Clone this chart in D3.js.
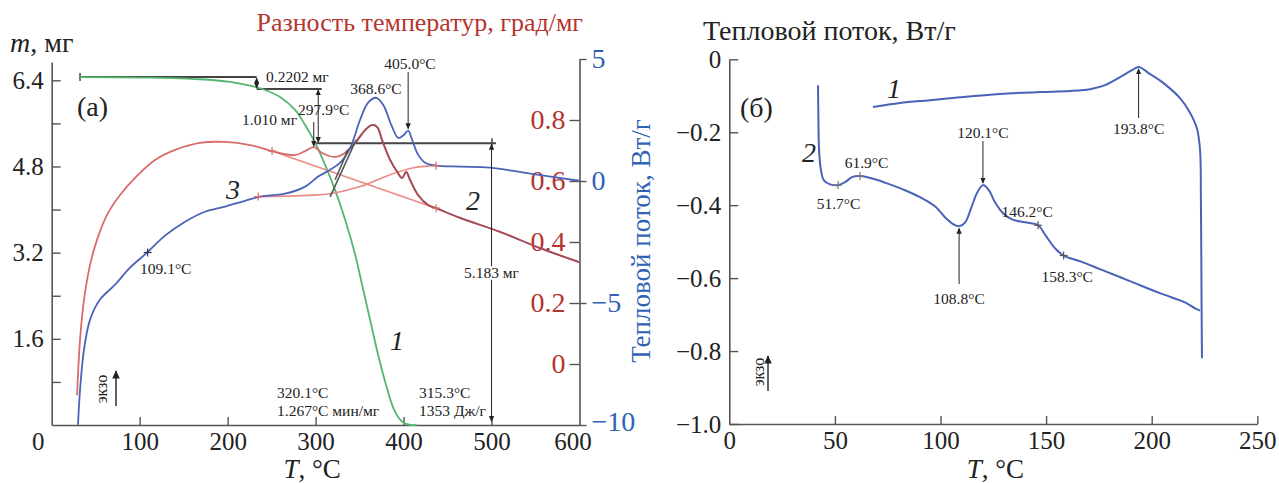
<!DOCTYPE html>
<html><head><meta charset="utf-8">
<script src="https://cdn.jsdelivr.net/npm/d3@7"></script>
<style>
body{margin:0;background:#fff}
svg, svg text{font-family:"Liberation Serif","Times New Roman","DejaVu Serif",serif}
</style>
</head><body>
<svg id="c" width="1279" height="483"></svg>
<script>
// ---------------- DATA ----------------
// Panel (a): TG curve 1 (mass, mg)
const tgT    = [32.2, 111.8, 168.6, 202.7, 225.5, 242.6, 259.6, 276.7, 288.1, 299.5, 310.8, 322.2, 333.6, 345.0, 352.9, 362.0, 371.1, 380.2, 389.3, 398.4, 407.5, 415];
const tgMass = [6.46, 6.45, 6.42, 6.37, 6.30, 6.22, 6.09, 5.85, 5.57, 5.24, 4.83, 4.36, 3.81, 3.16, 2.60, 1.95, 1.30, 0.74, 0.28, 0.06, 0.0, 0.0];
// Panel (a): DTA curve 2 (temperature difference, grad/mg)
const dtaT   = [28.8, 32.2, 36.7, 43.6, 51.5, 62.9, 77.7, 98.1, 117.5, 140.2, 168.6, 197.1, 225.5, 250.5, 276.7, 288.1, 298.3, 307.4, 322.2, 333.6, 345, 356.3, 364.3, 370, 375.6, 384.7, 392.7, 398.4, 402.9, 407.5, 416.5, 427.9, 437, 464.3, 509.7, 555.2, 599.6];
const dtaVal = [-0.102, 0.079, 0.210, 0.325, 0.407, 0.489, 0.554, 0.620, 0.669, 0.702, 0.725, 0.728, 0.718, 0.698, 0.685, 0.698, 0.711, 0.692, 0.679, 0.692, 0.725, 0.767, 0.784, 0.777, 0.734, 0.669, 0.630, 0.610, 0.630, 0.603, 0.554, 0.521, 0.511, 0.479, 0.433, 0.380, 0.334];
// Panel (a): DSC curve 3 (heat flow, W/g)
const dscT   = [29.9, 32.2, 36.7, 43.6, 54.9, 72, 89, 109.5, 128.8, 151.6, 174.3, 197.1, 219.8, 236.9, 265.3, 288.1, 302.9, 316.5, 327.9, 339.3, 350.6, 359.7, 368.8, 376.8, 385.9, 393.8, 399.5, 405.2, 409.7, 416.5, 424.5, 437, 464.3, 498.4, 543.9, 599.6];
const dscVal = [-9.99, -8.56, -6.91, -5.68, -4.86, -4.25, -3.55, -2.90, -2.24, -1.67, -1.26, -1.05, -0.81, -0.64, -0.52, -0.23, 0.18, 0.46, 0.75, 1.36, 2.51, 3.21, 3.41, 3.13, 2.31, 1.77, 1.86, 2.06, 1.69, 1.08, 0.75, 0.63, 0.59, 0.55, 0.30, 0.01];
// integration baselines
const dscBaseT   = [234.7, 282.4, 316.5, 350.6, 384.7, 413, 437];
const dscBaseVal = [-0.64, -0.60, -0.52, -0.23, 0.26, 0.55, 0.63];
const dtaBaseT   = [250.5, 437];
const dtaBaseVal = [0.698, 0.511];
// mass step levels (mg) and their labels
const stepLevels = [6.46, 6.24, 5.23, 0.05];
const stepLosses = ["0.2202 мг", "1.010 мг", "5.183 мг"];

// Panel (б): DSC curves
const c1T = [68.0, 80.8, 95, 109.2, 128.2, 147.1, 161.3, 170.8, 177.9, 185, 190.7, 193.8, 199.1, 206.2, 213.3, 218, 221.4, 222.9, 223.3, 223.6, 223.8];
const c1V = [-0.131, -0.120, -0.112, -0.104, -0.095, -0.090, -0.087, -0.082, -0.071, -0.049, -0.030, -0.021, -0.040, -0.068, -0.106, -0.145, -0.189, -0.249, -0.387, -0.661, -0.820];
const c2T = [42.0, 42.2, 42.5, 43.4, 44.8, 47.7, 51.5, 54.8, 58.1, 61.9, 69, 76, 83.2, 90.3, 97.4, 102.1, 105.9, 108.8, 111.7, 114.5, 117.4, 120.1, 122.9, 125.8, 129.6, 133.9, 140, 146.2, 150, 154.2, 158.3, 166.3, 175.8, 190, 204.2, 216, 220.5, 222.9];
const c2V = [-0.071, -0.167, -0.249, -0.304, -0.332, -0.343, -0.345, -0.337, -0.323, -0.320, -0.329, -0.343, -0.359, -0.378, -0.403, -0.433, -0.452, -0.458, -0.447, -0.408, -0.365, -0.345, -0.359, -0.392, -0.422, -0.439, -0.447, -0.455, -0.485, -0.518, -0.538, -0.554, -0.576, -0.609, -0.642, -0.667, -0.683, -0.689];

// tick values
const xTicksL = [0, 100, 200, 300, 400, 500, 600];
const mTicks  = [0.8, 1.6, 2.4, 3.2, 4.0, 4.8, 5.6, 6.4];
const dtaTicks = [0, 0.2, 0.4, 0.6, 0.8];
const dscTicks = [-10, -5, 0, 5];
const xTicksR = [0, 50, 100, 150, 200, 250];
const yTicksR = [-1.0, -0.8, -0.6, -0.4, -0.2, 0];

// ---------------- DRAW ----------------
const FONT = '"Liberation Serif","Times New Roman","DejaVu Serif",serif';
const svg = d3.select('#c');
const INK = '#222', AX = '#555';
const GREEN = '#55b572', RED = '#d86b6b', DRED = '#a24d5c', PINK = '#ec8a86', BLUE = '#4a63b8';
const RTXT = '#b5352f', BTXT = '#2f62b5';
const ANN = 15.5, BIG = 27;

const defs = svg.append('defs');
defs.append('marker').attr('id', 'ah').attr('viewBox', '0 0 10 10').attr('refX', 9).attr('refY', 5)
  .attr('markerWidth', 6).attr('markerHeight', 7).attr('orient', 'auto-start-reverse')
  .append('path').attr('d', 'M0,0.5 L10,5 L0,9.5 Z').attr('fill', INK);

function txt(g, x, y, s, o = {}) {
  const t = g.append('text').attr('x', x).attr('y', y).text(s)
    .attr('font-family', FONT)
    .attr('font-size', o.size || ANN).attr('fill', o.fill || INK)
    .attr('text-anchor', o.anchor || 'start').attr('dominant-baseline', 'central');
  if (o.italic) t.attr('font-style', 'italic');
  if (o.rot) t.attr('transform', `rotate(${o.rot},${x},${y})`);
  return t;
}
function seg(g, x1, y1, x2, y2, o = {}) {
  const l = g.append('line').attr('x1', x1).attr('y1', y1).attr('x2', x2).attr('y2', y2)
    .attr('stroke', o.stroke || INK).attr('stroke-width', o.w || 1.2);
  if (o.end) l.attr('marker-end', 'url(#ah)');
  if (o.start) l.attr('marker-start', 'url(#ah)');
  return l;
}
function cross(g, x, y, c) {
  seg(g, x - 4, y, x + 4, y, { stroke: c, w: 1.2 });
  seg(g, x, y - 4, x, y + 4, { stroke: c, w: 1.2 });
}
function styleAxis(ax, size, fill) {
  ax.attr('font-family', FONT);
  ax.selectAll('.tick line').attr('stroke', AX).attr('stroke-width', 1.4);
  ax.selectAll('.tick text').attr('font-size', size).attr('font-family', FONT).attr('fill', fill);
}
const zip = (a, b) => a.map((d, i) => [d, b[i]]);

// ===== Panel (a) =====
const xL = d3.scaleLinear().domain([0, 600]).range([51.7, 579.5]);
const yM = d3.scaleLinear().domain([0, 6.74]).range([425, 62]);
const yD = d3.scaleLinear().domain([-0.2, 1.0]).range([425, 59]);
const yB = d3.scaleLinear().domain([-10, 5]).range([425, 59]);

const gA = svg.append('g');
const axB = gA.append('g').attr('transform', `translate(0,${yM(0)})`)
  .call(d3.axisBottom(xL).tickValues(xTicksL).tickSizeInner(-8).tickSizeOuter(0).tickPadding(7).tickFormat(d3.format('d')));
styleAxis(axB, 25, INK);
axB.select('.domain').attr('stroke', AX).attr('stroke-width', 1.6);
axB.selectAll('.tick line').filter(d => d === 0 || d === 600).remove();
axB.selectAll('.tick text').filter(d => d === 0).attr('dx', -14);
axB.selectAll('.tick text').filter(d => d === 600).attr('dx', -7);

const axM = gA.append('g').attr('transform', `translate(${xL(0)},0)`)
  .call(d3.axisLeft(yM).tickValues(mTicks).tickSizeInner(-9).tickSizeOuter(0).tickPadding(8)
    .tickFormat(d => (Math.abs(d / 1.6 - Math.round(d / 1.6)) < 1e-6) ? d3.format('.1f')(d) : ''));
styleAxis(axM, 25, INK);
axM.select('.domain').attr('stroke', AX).attr('stroke-width', 1.6);

const axD = gA.append('g').attr('transform', `translate(${xL(600)},0)`)
  .call(d3.axisLeft(yD).tickValues(dtaTicks).tickSizeInner(10).tickSizeOuter(0).tickPadding(4)
    .tickFormat(d => d === 0 ? '0' : d3.format('.1f')(d)));
styleAxis(axD, 28, RTXT);
axD.select('.domain').remove();

const axBl = gA.append('g').attr('transform', `translate(${xL(600)},0)`)
  .call(d3.axisRight(yB).tickValues(dscTicks).tickSizeInner(7).tickSizeOuter(0).tickPadding(5));
styleAxis(axBl, 28, BTXT);
axBl.select('.domain').attr('stroke', AX).attr('stroke-width', 1.6);
axBl.selectAll('.tick text').filter(d => d === -10).attr('dy', '0.2em');

// titles
const mt = gA.append('text').attr('x', 10).attr('y', 52).attr('font-size', 28).attr('font-family', FONT).attr('fill', INK);
mt.append('tspan').attr('font-style', 'italic').text('m');
mt.append('tspan').text(', мг');
txt(gA, 583, 22, 'Разность температур, град/мг', { size: 26, fill: RTXT, anchor: 'end' });
txt(gA, 641, 241, 'Тепловой поток, Вт/г', { size: 27, fill: BTXT, anchor: 'middle', rot: -90 });
const xt = gA.append('text').attr('x', xL(296)).attr('y', 478).attr('text-anchor', 'middle').attr('font-size', BIG).attr('font-family', FONT).attr('fill', INK);
xt.append('tspan').attr('font-style', 'italic').text('T');
xt.append('tspan').text(', °C');

const lineM = d3.line().x(d => xL(d[0])).y(d => yM(d[1])).curve(d3.curveCatmullRom.alpha(0.5));
const lineD = d3.line().x(d => xL(d[0])).y(d => yD(d[1])).curve(d3.curveCatmullRom.alpha(0.5));
const lineB = d3.line().x(d => xL(d[0])).y(d => yB(d[1])).curve(d3.curveCatmullRom.alpha(0.5));

// mass-step construction lines
const sT = [32.2, 233, 307, 300, 505];
seg(gA, xL(sT[0]), yM(stepLevels[0]), xL(sT[1]), yM(stepLevels[0]), { stroke: '#444', w: 2 });
seg(gA, xL(sT[0]), yM(stepLevels[0]) - 4, xL(sT[0]), yM(stepLevels[0]) + 4, { stroke: '#444', w: 1.5 });
seg(gA, xL(sT[1]), yM(stepLevels[1]), xL(sT[2]), yM(stepLevels[1]), { stroke: '#444', w: 2 });
seg(gA, xL(sT[3]), yM(stepLevels[2]), xL(sT[4]), yM(stepLevels[2]), { stroke: '#444', w: 2 });
seg(gA, xL(sT[4]) - 4, yM(stepLevels[2]) - 5, xL(sT[4]) - 4, yM(stepLevels[2]) + 5, { stroke: '#444', w: 1.5 });

// curves
gA.append('path').datum(zip(tgT, tgMass)).attr('d', lineM).attr('fill', 'none').attr('stroke', GREEN).attr('stroke-width', 1.8);
gA.append('path').datum(zip(dtaBaseT, dtaBaseVal)).attr('d', lineD).attr('fill', 'none').attr('stroke', PINK).attr('stroke-width', 1.6);
gA.append('path').datum(zip(dscBaseT, dscBaseVal)).attr('d', lineB).attr('fill', 'none').attr('stroke', PINK).attr('stroke-width', 1.6);
gA.append('path').datum(zip(dtaT, dtaVal)).attr('d', lineD).attr('fill', 'none').attr('stroke', RED).attr('stroke-width', 1.8);
gA.append('path').datum(zip(dtaT, dtaVal).filter(d => d[0] >= 333)).attr('d', lineD).attr('fill', 'none').attr('stroke', DRED).attr('stroke-width', 1.8);
gA.append('path').datum(zip(dscT, dscVal)).attr('d', lineB).attr('fill', 'none').attr('stroke', BLUE).attr('stroke-width', 1.8);

// onset tangents
seg(gA, xL(316.5), yB(-0.65), xL(346.1), yB(1.69), { stroke: '#555', w: 1.6 });
seg(gA, xL(322.2), yB(0.05), xL(337), yB(1.28), { stroke: '#555', w: 1.6 });

// crosses
cross(gA, xL(250.5), yD(0.698), RED);
cross(gA, xL(437), yD(0.511), RED);
cross(gA, xL(234.7), yB(-0.64), RED);
cross(gA, xL(437), yB(0.63), RED);
cross(gA, xL(109.1), yB(-2.93), '#335');

// annotations
seg(gA, xL(sT[1]), yM(stepLevels[0]) + 1, xL(sT[1]), yM(stepLevels[1]) - 1, { start: true, end: true, w: 1 });
txt(gA, 266, 76, stepLosses[0]);
seg(gA, xL(303), yM(stepLevels[1]) + 1, xL(303), yM(stepLevels[2]) - 1, { start: true, end: true, w: 1 });
txt(gA, 297, 119, stepLosses[1], { anchor: 'end' });
seg(gA, xL(297.9), 122, xL(297.9), yD(0.711) - 1, { end: true, w: 1 });
txt(gA, 298, 109, '297.9°C');
txt(gA, 376, 88, '368.6°C', { anchor: 'middle' });
txt(gA, 410, 63, '405.0°C', { anchor: 'middle' });
seg(gA, xL(405.2), 72, xL(405.2), yB(2.06) - 2, { end: true, w: 1 });
seg(gA, xL(500), yM(stepLevels[2]) + 1, xL(500), yM(stepLevels[3]) - 1, { start: true, end: true, w: 1 });
txt(gA, xL(500), 272, stepLosses[2], { anchor: 'middle' }).attr('stroke', '#fff').attr('stroke-width', 4).attr('paint-order', 'stroke');
txt(gA, 140, 268, '109.1°C');
txt(gA, 277, 392, '320.1°C');
txt(gA, 277, 410, '1.267°C мин/мг');
txt(gA, 419, 392, '315.3°C');
txt(gA, 419, 410, '1353 Дж/г');
txt(gA, 101, 389, 'экзо', { rot: -90, anchor: 'middle', size: 16 });
seg(gA, 116, 406, 116, 371, { end: true, w: 1.4 });
txt(gA, 77, 106, '(а)', { size: 28 });
txt(gA, 390, 340, '1', { size: 28, italic: true });
txt(gA, 466, 200, '2', { size: 28, italic: true });
txt(gA, 226, 189, '3', { size: 28, italic: true });

// ===== Panel (б) =====
const xR = d3.scaleLinear().domain([0, 250]).range([729.3, 1257.3]);
const yR = d3.scaleLinear().domain([-1, 0]).range([424, 59.3]);
const gB = svg.append('g');

const axRB = gB.append('g').attr('transform', `translate(0,${yR(-1)})`)
  .call(d3.axisBottom(xR).tickValues(xTicksR).tickSizeInner(-8).tickSizeOuter(0).tickPadding(7).tickFormat(d3.format('d')));
styleAxis(axRB, 25, INK);
axRB.select('.domain').attr('stroke', AX).attr('stroke-width', 1.6);
axRB.selectAll('.tick line').filter(d => d === 0).remove();

const axRL = gB.append('g').attr('transform', `translate(${xR(0)},0)`)
  .call(d3.axisLeft(yR).tickValues(yTicksR).tickSizeInner(-9).tickSizeOuter(0).tickPadding(8)
    .tickFormat(d => d === 0 ? '0' : d3.format('.1f')(d)));
styleAxis(axRL, 25, INK);
axRL.select('.domain').attr('stroke', AX).attr('stroke-width', 1.6);

txt(gB, 703, 30, 'Тепловой поток, Вт/г', { size: 28 });
const xt2 = gB.append('text').attr('x', xR(126)).attr('y', 478).attr('text-anchor', 'middle').attr('font-size', BIG).attr('font-family', FONT).attr('fill', INK);
xt2.append('tspan').attr('font-style', 'italic').text('T');
xt2.append('tspan').text(', °C');

const lineR = d3.line().x(d => xR(d[0])).y(d => yR(d[1])).curve(d3.curveCatmullRom.alpha(0.5));
gB.append('path').datum(zip(c1T, c1V)).attr('d', lineR).attr('fill', 'none').attr('stroke', BLUE).attr('stroke-width', 2);
gB.append('path').datum(zip(c2T, c2V)).attr('d', lineR).attr('fill', 'none').attr('stroke', BLUE).attr('stroke-width', 2);

cross(gB, xR(51.5), yR(-0.345), '#777');
cross(gB, xR(61.9), yR(-0.320), '#777');
cross(gB, xR(146.2), yR(-0.455), '#555');
cross(gB, xR(158.3), yR(-0.538), '#555');

txt(gB, xR(51.7), 203, '51.7°C', { anchor: 'middle' });
txt(gB, xR(65), 162, '61.9°C', { anchor: 'middle' });
txt(gB, xR(120.1), 132, '120.1°C', { anchor: 'middle' });
seg(gB, xR(120.1), 141, xR(120.1), yR(-0.345) - 2, { end: true, w: 1 });
txt(gB, xR(108.8), 298, '108.8°C', { anchor: 'middle' });
seg(gB, xR(108.8), 284, xR(108.8), yR(-0.458) + 2, { end: true, w: 1 });
txt(gB, xR(141), 211, '146.2°C', { anchor: 'middle' });
txt(gB, xR(160), 276, '158.3°C', { anchor: 'middle' });
txt(gB, xR(193.8), 128, '193.8°C', { anchor: 'middle' });
seg(gB, xR(193.8), 118, xR(193.8), yR(-0.021) + 2, { end: true, w: 1 });
txt(gB, 758, 372, 'экзо', { rot: -90, anchor: 'middle', size: 16 });
seg(gB, 768, 391, 768, 356, { end: true, w: 1.4 });
txt(gB, 740, 107, '(б)', { size: 28 });
txt(gB, 887, 88, '1', { size: 28, italic: true });
txt(gB, 802, 152, '2', { size: 28, italic: true });
</script>
</body></html>
